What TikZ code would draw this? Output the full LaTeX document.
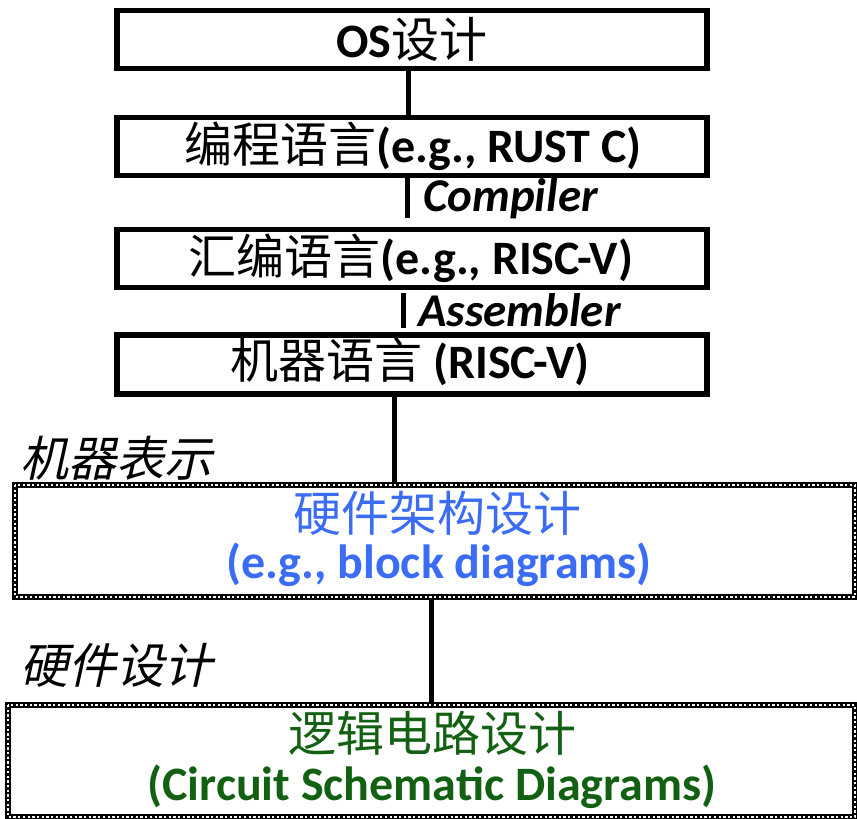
\documentclass[tikz,border=0pt]{standalone}
\usepackage{fontspec}
\setmainfont{Carlito}
\newfontfamily\cjk{Noto Sans CJK SC}
\newfontfamily\cjkit[FakeSlant=0.22]{Noto Sans CJK SC}
\definecolor{hwblue}{RGB}{59,108,245}
\definecolor{lgreen}{RGB}{18,96,18}
\begin{document}
\begin{tikzpicture}[x=1pt,y=-1pt,
  box/.style={draw=black, line width=5.5pt, inner sep=0pt, fill=white},
  boxtxt/.style={font=\fontsize{48}{52}\selectfont\bfseries},
  conn/.style={line width=5pt},
  lbl/.style={font=\fontsize{47}{50}\selectfont\bfseries\itshape, inner sep=0pt, anchor=west},
  sidelbl/.style={font=\fontsize{48}{52}\selectfont\cjkit, inner sep=0pt, anchor=west},
  dotline/.style={line width=6pt},
  dotholes/.style={white, line width=2.4pt, dash pattern=on 2.3pt off 2.4pt}
]
\useasboundingbox (0,0) rectangle (857,819);
% solid boxes
\node[box, minimum width=590pt, minimum height=58pt] (os) at (412,39.5) {};
\node[box, minimum width=590pt, minimum height=58pt] (lang) at (412,146.5) {};
\node[box, minimum width=590pt, minimum height=58pt] (asm) at (412,258.5) {};
\node[box, minimum width=590pt, minimum height=59pt] (mach) at (412,364.5) {};
% texts
\node[boxtxt] (ost) at (412,39) {OS{\mdseries\cjk 设计}};
\node[boxtxt] (langt) at (413,146) {{\mdseries\cjk 编程语言}(e.g., RUST C)};
\node[boxtxt] (asmt) at (411,258) {{\mdseries\cjk 汇编语言}(e.g., RISC-V)};
\node[boxtxt] (macht) at (410,362) {{\mdseries\cjk 机器语言} (RISC-V)};
% dotted boxes
\coordinate (hwnw) at (15,485);
\coordinate (hwse) at (855,597);
\coordinate (lgnw) at (8,705);
\coordinate (lgse) at (855,817);
\draw[dotline] (hwnw) rectangle (hwse);
\draw[dotholes] (hwnw) rectangle (hwse);
\draw[dotline] (lgnw) rectangle (lgse);
\draw[dotholes] (lgnw) rectangle (lgse);
\node[font=\fontsize{48}{52}\selectfont\cjk, text=hwblue] (hwt1) at (437,513) {硬件架构设计};
\node[font=\fontsize{48}{52}\selectfont\bfseries, text=hwblue] (hwt2) at (439,565) {(e.g., block diagrams)};
\node[font=\fontsize{48}{52}\selectfont\cjk, text=lgreen] (lgt1) at (432,733) {逻辑电路设计};
\node[font=\fontsize{48}{52}\selectfont\bfseries, text=lgreen] (lgt2) at (432,787) {(Circuit Schematic Diagrams)};
% connectors
\coordinate (c1a) at (408,71);
\coordinate (c1b) at (408,116);
\draw[conn] (c1a) -- (c1b);
\coordinate (c2a) at (407,177);
\coordinate (c2b) at (407,218);
\draw[conn] (c2a) -- (c2b);
\coordinate (c3a) at (403,293);
\coordinate (c3b) at (403,328);
\draw[conn] (c3a) -- (c3b);
\coordinate (c4a) at (394,397);
\coordinate (c4b) at (394,482);
\draw[conn] (c4a) -- (c4b);
\coordinate (c5a) at (431,600);
\coordinate (c5b) at (431,702);
\draw[conn] (c5a) -- (c5b);
% labels
\node[lbl] (comp) at (423,199) {Compiler};
\node[lbl] (assem) at (418,310) {Assembler};
\node[sidelbl] (mr) at (20,458) {机器表示};
\node[sidelbl] (hd) at (20,665) {硬件设计};
\end{tikzpicture}
\end{document}
